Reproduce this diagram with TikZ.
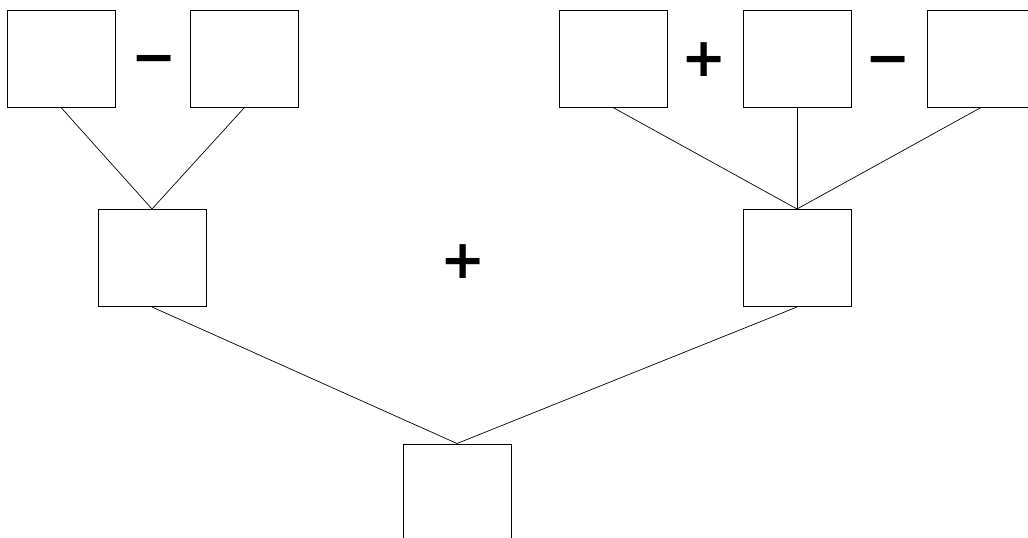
\documentclass[tikz,border=0pt]{standalone}
\usepackage{fontspec}
\setmainfont{DejaVu Sans}
\usetikzlibrary{positioning}
\tikzset{
termbox/.style={
  draw,
  line width=1pt,
  minimum width=108pt,
  minimum height=97pt,
  inner sep=0pt
  },
opsign/.style={
  inner sep=0pt,
  text height=31pt,
  text depth=0pt,
  font=\fontsize{54}{54}\selectfont\bfseries
  },
link/.style={
  line width=0.7pt
  }
}

\begin{document}
\begin{tikzpicture}[x=1pt,y=-1pt]

\useasboundingbox (0,0) rectangle (1028,538);
\fill[white] (0,0) rectangle (1028,538);

% top row
\node[termbox] (l1) at (61,58.5) {};
\node[termbox] (l2) at (244.5,58.5) {};
\node[termbox] (r1) at (613,58.5) {};
\node[termbox] (r2) at (797,58.5) {};
\node[termbox] (r3) at (981,58.5) {};

\node[opsign] (opl) at (154,60) {−};
\node[opsign] (opr1) at (704,61) {+};
\node[opsign] (opr2) at (888,61) {−};

% middle row
\node[termbox] (ml) at (152,258) {};
\node[termbox] (mr) at (797,258) {};

\node[opsign] (opm) at (463,263) {+};

% bottom
\node[termbox] (res) at (457,492.5) {};

\draw[link] (l1.south) -- (ml.north);
\draw[link] (l2.south) -- (ml.north);
\draw[link] (r1.south) -- (mr.north);
\draw[link] (r2.south) -- (mr.north);
\draw[link] (r3.south) -- (mr.north);
\draw[link] (ml.south) -- (res.north);
\draw[link] (mr.south) -- (res.north);

\end{tikzpicture}
\end{document}
